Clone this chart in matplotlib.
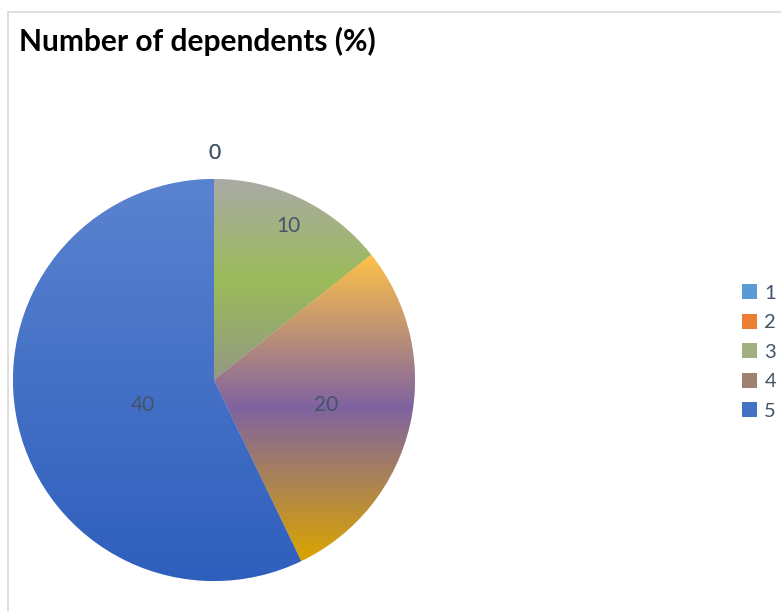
import numpy as np
import matplotlib
matplotlib.use("Agg")
import matplotlib.pyplot as plt
from matplotlib.colors import LinearSegmentedColormap, to_rgb
from matplotlib.patches import Rectangle

plt.rcParams['font.family'] = ['Lato', 'DejaVu Sans']

categories = ["1", "2", "3", "4", "5"]
values = [0, 0, 10, 20, 40]
solid_colors = ["#5b9bd5", "#ed7d31", "#9bbb59", "#a88a7a", "#4472c4"]
# vertical gradient stops (top -> bottom) per slice
gradients = [
    ["#5b9bd5", "#5b9bd5"],
    ["#ed7d31", "#ed7d31"],
    ["#aaaaa6", "#9bbb59", "#939a84"],
    ["#ffc247", "#7f63a1", "#dba500"],
    ["#5a83cf", "#2f5fbd"],
]
legend_colors = ["#5b9bd5", "#ed7d31", "#a2b07f", "#a0806f", "#4472c4"]
# label distance as fraction of radius and angle offset
label_dist = [1.13, 1.13, 0.85, 0.57, 0.375]
label_angle_shift = [0, 0, 0, 0, 6.5]

W, H = 781, 611
fig = plt.figure(figsize=(W / 100, H / 100), dpi=100)

# chart frame
fig.patches.append(Rectangle((8 / W, -0.01), 1.0, 1 - 12 / H + 0.01, transform=fig.transFigure,
                             fill=False, edgecolor="#d9d9d9", linewidth=1.2))

fig.text(19 / W, 1 - 41 / H, "Number of dependents (%)", fontsize=21.5, fontweight="bold",
         color="black", va="center", ha="left")

cx, cy, r = 214, 380, 201
ax = fig.add_axes([(cx - r) / W, 1 - (cy + r) / H, 2 * r / W, 2 * r / H])
wedges, _ = ax.pie(values, colors=solid_colors, startangle=90, counterclock=False,
                   wedgeprops=dict(edgecolor="white", linewidth=0.4))
ax.set_aspect("equal")
ax.axis("off")

for w, stops in zip(wedges, gradients):
    if w.theta2 - w.theta1 <= 0:
        continue
    bb = w.get_path().get_extents()
    cmap = LinearSegmentedColormap.from_list("g", [to_rgb(c) for c in stops])
    grad = np.linspace(0, 1, 256).reshape(-1, 1)
    im = ax.imshow(grad, cmap=cmap, extent=[bb.x0, bb.x1, bb.y0, bb.y1], origin="upper",
                   aspect="auto", interpolation="bilinear", zorder=w.get_zorder() + 0.1)
    im.set_clip_path(w)

for w, v, d, s in zip(wedges, values, label_dist, label_angle_shift):
    ang = np.deg2rad((w.theta1 + w.theta2) / 2 + s)
    ax.text(d * np.cos(ang), d * np.sin(ang), str(v), ha="center", va="center",
            fontsize=15, color="#44546a", zorder=10)

ax.set_xlim(-1, 1)
ax.set_ylim(-1, 1)

leg = fig.legend(wedges, categories, loc="center left", bbox_to_anchor=(724 / W, 1 - 352 / H),
                 frameon=False, fontsize=14.5, labelcolor="#44546a", handlelength=0.75,
                 handleheight=0.75, handletextpad=0.35, labelspacing=0.6)
for h, c in zip(leg.legend_handles, legend_colors):
    h.set_facecolor(c)
    h.set_edgecolor("none")

fig.savefig("out.png", dpi=100)
